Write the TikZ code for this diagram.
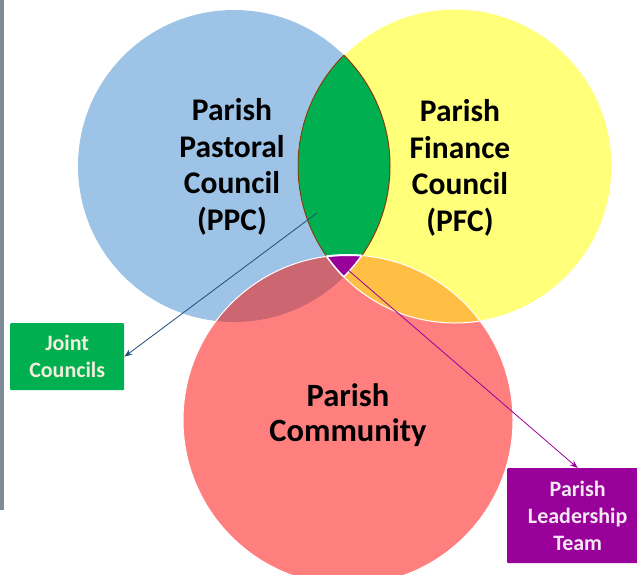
\documentclass[tikz,border=0pt]{standalone}
\usepackage{fontspec}
\setmainfont{Carlito}
\usetikzlibrary{arrows.meta}

\definecolor{ppcblue}{HTML}{9DC3E6}
\definecolor{pfcyellow}{HTML}{FFFF79}
\definecolor{commred}{HTML}{FF7F7F}
\definecolor{bluered}{HTML}{CC6670}
\definecolor{yellowred}{HTML}{FFBF44}
\definecolor{jointgreen}{HTML}{00B050}
\definecolor{leadpurple}{HTML}{990099}
\definecolor{lensbrown}{HTML}{843C0C}
\definecolor{arrowblue}{HTML}{1F4E79}
\definecolor{bargray}{HTML}{7F8B96}
\definecolor{creamtext}{HTML}{F2EEDC}
\definecolor{lilactext}{HTML}{F4E8F4}

\begin{document}
\begin{tikzpicture}
    [
        x=1pt, y=-1pt,
        title/.style={align=center, text=black, font=\fontsize{31.5}{36.5}\selectfont\bfseries},
        box/.style={rectangle, rounded corners=1pt, anchor=north west, inner sep=0pt, align=center, font=\fontsize{22}{27}\selectfont\bfseries},
        arrow/.style={-{Stealth[length=8pt, width=6pt]}, line width=0.8pt}
    ]
    \clip (0,0) rectangle (637,574);
    \fill[bargray] (0,0) rectangle (4,510);

    % Circles
    \coordinate (ppc) at (234,166);
    \coordinate (pfc) at (455,166);
    \coordinate (comm) at (348,420);
    \fill[ppcblue] (ppc) circle (156);
    \fill[pfcyellow] (pfc) circle (157);
    \fill[commred] (comm) circle (165);
    \begin{scope}
        \clip (ppc) circle (156);
        \fill[bluered] (comm) circle (165);
    \end{scope}
    \begin{scope}
        \clip (pfc) circle (157);
        \fill[yellowred] (comm) circle (165);
    \end{scope}
    \draw[white, line width=1pt] (pfc) circle (157);
    \draw[white, line width=1pt] (comm) circle (165);

    % Overlaps
    \begin{scope}
        \clip (ppc) circle (156);
        \fill[jointgreen] (pfc) circle (157);
        \draw[lensbrown, line width=1pt] (pfc) circle (157);
    \end{scope}
    \begin{scope}
        \clip (pfc) circle (157);
        \draw[lensbrown, line width=1pt] (ppc) circle (156);
    \end{scope}
    \begin{scope}
        \clip (ppc) circle (156);
        \clip (pfc) circle (157);
        \fill[leadpurple, draw=white, line width=2pt] (comm) circle (165);
    \end{scope}
    \begin{scope}
        \clip (ppc) circle (156);
        \clip (comm) circle (165);
        \draw[white, line width=1.5pt] (pfc) circle (157);
    \end{scope}
    \begin{scope}
        \clip (pfc) circle (157);
        \clip (comm) circle (165);
        \draw[white, line width=1.5pt] (ppc) circle (156);
    \end{scope}

    % Nodes
    \node[title] (ppctext) at (232,167) {Parish\\Pastoral\\Council\\(PPC)};
    \node[title] (pfctext) at (460,168) {Parish\\Finance\\Council\\(PFC)};
    \node[title, font=\fontsize{32.5}{35.5}\selectfont\bfseries] (commtext) at (348,415) {Parish\\Community};
    \node[box, fill=jointgreen, text=creamtext, minimum width=114pt, minimum height=67pt] (joint) at (10,323) {Joint\\Councils};
    \node[box, fill=leadpurple, text=lilactext, minimum width=141pt, minimum height=95pt] (leader) at (507,468) {Parish\\Leadership\\Team};
    \coordinate (lensdot) at (317,213);
    \coordinate (triangledot) at (348,270);

    % Arrows
    \draw[arrow, arrowblue] (lensdot) -- (joint.east);
    \draw[arrow, leadpurple] (triangledot) -- (leader.north);
\end{tikzpicture}
\end{document}
